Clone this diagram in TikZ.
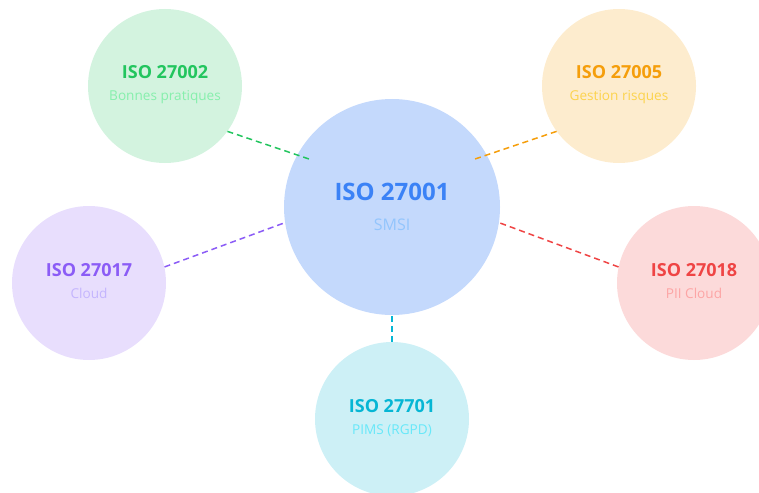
\documentclass[tikz,border=0pt]{standalone}
\usepackage{fontspec}
\setmainfont{Open Sans}
\usetikzlibrary{positioning}

% palette
\definecolor{isoblue}{HTML}{3B82F6}
\definecolor{isobluelt}{HTML}{93C5FD}
\definecolor{isogreen}{HTML}{22C55E}
\definecolor{isogreenlt}{HTML}{86EFAC}
\definecolor{isoorange}{HTML}{F59E0B}
\definecolor{isoorangelt}{HTML}{FCD34D}
\definecolor{isopurple}{HTML}{8B5CF6}
\definecolor{isopurplelt}{HTML}{C4B5FD}
\definecolor{isored}{HTML}{EF4444}
\definecolor{isoredlt}{HTML}{FCA5A5}
\definecolor{isocyan}{HTML}{06B6D4}
\definecolor{isocyanlt}{HTML}{67E8F9}

\tikzset{
	bubble/.style = {circle, fill = #1!20, minimum size = 154pt, inner sep = 0pt},
	bigbubble/.style = {circle, fill = #1!30, minimum size = 216pt, inner sep = 0pt},
	stdname/.style = {anchor = base, text = #1, font = \bfseries\fontsize{18}{20}\selectfont},
	stdtopic/.style = {anchor = base, text = #1, font = \fontsize{13.6}{15}\selectfont},
	link/.style = {draw = #1, line width = 1.5pt, dash pattern = on 6pt off 4pt},
}

\begin{document}
\begin{tikzpicture}[x = 1pt, y = -1pt]
\useasboundingbox (0, 0) rectangle (759, 492);

% main standard
\node[bigbubble = isoblue] (smsi) at (392, 207) {};
\node[stdname = isoblue, font = \bfseries\fontsize{24}{26}\selectfont] (smsi-name) at (392, 200) {ISO 27001};
\node[stdtopic = isobluelt, font = \fontsize{16}{18}\selectfont] (smsi-topic) at (392, 230) {SMSI};

% family members around it, each tied to a point on the main bubble
\foreach \nm/\x/\y/\col/\num/\topic/\ang/\ex/\ey in {
	prat/165/86/isogreen/27002/Bonnes pratiques/-36/312/160,
	risk/619/86/isoorange/27005/Gestion risques/-144/472/160,
	cloud/89/283/isopurple/27017/Cloud/12/284/223,
	pii/694/283/isored/27018/PII Cloud/168/500/223,
	pims/392/419/isocyan/27701/PIMS (RGPD)/90/392/313} {
	\node[bubble = \col] (\nm) at (\x, \y) {};
	\node[stdname = \col] (\nm-name) at (\x, \y - 7) {ISO \num};
	\node[stdtopic = \col lt] (\nm-topic) at (\x, \y + 15) {\topic};

	\coordinate (\nm-end) at (\ex, \ey);
	\draw[link = \col] (\nm.\ang) -- (\nm-end);
}

\end{tikzpicture}
\end{document}
